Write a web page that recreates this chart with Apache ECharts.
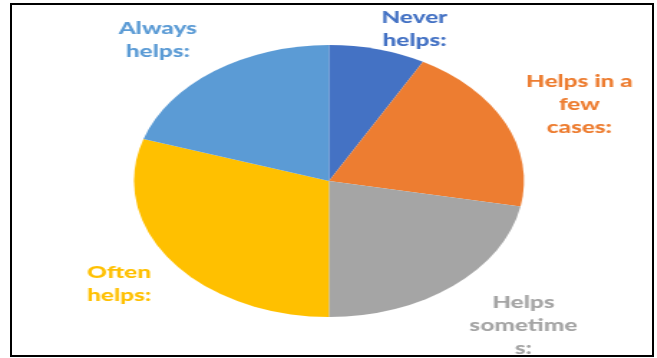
<!DOCTYPE html>
<html>
<head>
<meta charset="utf-8">
<script src="https://cdn.jsdelivr.net/npm/echarts@6/dist/echarts.min.js"></script>
<style>
  html, body { margin: 0; padding: 0; background: #fff; overflow: hidden; }
  /* the source picture is stretched sideways, so the chart is drawn round and widened */
  #chart { position: absolute; left: 0; top: 0; width: 458px; height: 358px;
           transform: scaleX(1.434); transform-origin: 0 0; }
  #frame { position: absolute; left: 10px; top: 3px; width: 640px; height: 350px;
           border: 2px solid #000; pointer-events: none; }
</style>
</head>
<body>
<div id="chart"></div>
<div id="frame"></div>
<script>
// categories, clockwise from 12 o'clock
const CATEGORIES = ['Never helps:', 'Helps in a few cases:', 'Helps sometimes:', 'Often helps:', 'Always helps:']
// label text as it wraps in the picture
const LABEL_TEXT = ['Never\nhelps:', 'Helps in a\nfew\ncases:', 'Helps\nsometime\ns:', 'Often\nhelps:', 'Always\nhelps:']
// share of answers (%)
const VALUES = [8, 20, 22, 30, 20]
const COLORS = ['#4472C4', '#ED7D31', '#A5A5A5', '#FFC000', '#5B9BD5']
// label centres, in the unstretched chart's pixels
const LABEL_POS = [[289, 29], [404, 105], [365, 326], [83, 284], [110, 40]]

const chart = echarts.init(document.getElementById('chart'))
chart.setOption({
  animation: false,
  series: [{
    type: 'pie',
    center: [229.4, 181],
    radius: 136,
    startAngle: 90,
    clockwise: true,
    silent: true,
    data: CATEGORIES.map((name, i) => ({
      name, value: VALUES[i],
      itemStyle: { color: COLORS[i] },
      label: { color: COLORS[i] },
    })),
    itemStyle: { borderWidth: 0 },
    label: {
      show: true, position: 'outside', overflow: 'none',
      formatter: p => LABEL_TEXT[p.dataIndex],
      fontFamily: 'Lato', fontWeight: 900, fontSize: 17, lineHeight: 23,
      align: 'center',
    },
    labelLine: { show: false },
    labelLayout: p => ({
      x: LABEL_POS[p.dataIndex][0], y: LABEL_POS[p.dataIndex][1],
      align: 'center', verticalAlign: 'middle',
    }),
  }],
})
</script>
</body>
</html>
